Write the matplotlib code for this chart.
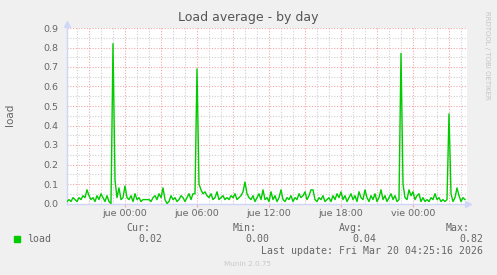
import matplotlib.pyplot as plt
import numpy as np

# 10 minute samples, hours relative to "jue 00:00", first sample Wed 19:10
start_hour = -29 / 6
step_hour = 1 / 6

load = [
    0.01, 0.02, 0.01, 0.03, 0.02, 0.01, 0.03, 0.02, 0.04, 0.03,
    0.07, 0.04, 0.02, 0.03, 0.01, 0.04, 0.02, 0.05, 0.03, 0.01,
    0.04, 0.01, 0.00, 0.82, 0.12, 0.03, 0.08, 0.02, 0.03, 0.09,
    0.03, 0.02, 0.04, 0.01, 0.05, 0.02, 0.03, 0.01, 0.02, 0.02,
    0.02, 0.02, 0.01, 0.03, 0.04, 0.02, 0.05, 0.03, 0.08, 0.02,
    0.00, 0.01, 0.04, 0.02, 0.03, 0.01, 0.02, 0.04, 0.03, 0.01,
    0.03, 0.05, 0.02, 0.05, 0.05, 0.69, 0.10, 0.07, 0.05, 0.06,
    0.04, 0.03, 0.05, 0.02, 0.03, 0.06, 0.02, 0.03, 0.04, 0.02,
    0.03, 0.02, 0.04, 0.03, 0.05, 0.02, 0.03, 0.04, 0.06, 0.11,
    0.05, 0.03, 0.02, 0.04, 0.01, 0.03, 0.05, 0.02, 0.07, 0.02,
    0.03, 0.01, 0.06, 0.02, 0.04, 0.01, 0.03, 0.07, 0.02, 0.01,
    0.03, 0.02, 0.04, 0.01, 0.03, 0.02, 0.05, 0.03, 0.04, 0.06,
    0.02, 0.04, 0.07, 0.07, 0.02, 0.01, 0.03, 0.02, 0.04, 0.01,
    0.02, 0.03, 0.01, 0.04, 0.02, 0.05, 0.03, 0.06, 0.02, 0.04,
    0.01, 0.03, 0.05, 0.02, 0.04, 0.01, 0.06, 0.03, 0.02, 0.07,
    0.03, 0.01, 0.04, 0.02, 0.05, 0.01, 0.03, 0.07, 0.02, 0.04,
    0.01, 0.03, 0.05, 0.02, 0.04, 0.01, 0.02, 0.77, 0.10, 0.03,
    0.02, 0.07, 0.04, 0.06, 0.02, 0.04, 0.05, 0.01, 0.03, 0.01,
    0.02, 0.01, 0.03, 0.02, 0.05, 0.02, 0.03, 0.01, 0.02, 0.01,
    0.02, 0.46, 0.05, 0.01, 0.03, 0.08, 0.04, 0.01, 0.03, 0.02,
]

tick_hours = [0, 6, 12, 18, 24]
tick_labels = ['jue 00:00', 'jue 06:00', 'jue 12:00', 'jue 18:00', 'vie 00:00']

stats_names = ['Cur:', 'Min:', 'Avg:', 'Max:']
stats_values = ['0.02', '0.00', '0.04', '0.82']
last_update = 'Last update: Fri Mar 20 04:25:16 2026'

W, H = 497, 275
font_col = '#666666'
axis_col = '#CFD6F8'

t = start_hour + step_hour * np.arange(len(load))

fig = plt.figure(figsize=(W / 100, H / 100), dpi=100, facecolor='#F0F0F0')
ax = fig.add_axes([67 / W, 1 - 203.5 / H, 400 / W, 175.5 / H])
ax.set_facecolor('white')

x0 = -58 / 12
x1 = x0 + 400 / 12
ax.set_xlim(x0, x1)
ax.set_ylim(0, 0.9)

# grid by hand, rrdtool style
for h in np.arange(np.ceil(x0), x1, 1):
    if h % 3 == 0:
        ax.axvline(h, color='#F0A8A8', lw=0.8, ls=(0, (1, 1.5)), zorder=1)
    else:
        ax.axvline(h, color='#D0D0D0', lw=0.8, ls=(0, (1, 1.5)), zorder=1)
for v in np.arange(0.05, 0.91, 0.05):
    if round(v * 100) % 10 == 0:
        ax.axhline(v, color='#F0A8A8', lw=0.8, ls=(0, (1, 1.5)), zorder=1)
    else:
        ax.axhline(v, color='#D0D0D0', lw=0.8, ls=(0, (1, 1.5)), zorder=1)

ax.plot(t, load, color='#00CC00', lw=1, zorder=3)

for s in ['top', 'right']:
    ax.spines[s].set_visible(False)
for s in ['left', 'bottom']:
    ax.spines[s].set_color(axis_col)
    ax.spines[s].set_linewidth(1)

ax.set_xticks(tick_hours)
ax.set_xticklabels(tick_labels)
ax.set_yticks(np.arange(0, 0.91, 0.1))
ax.set_yticklabels(['%.1f' % v for v in np.arange(0, 0.91, 0.1)])
ax.tick_params(axis='x', length=2, color='#F0A8A8', pad=2, labelsize=6.8, labelcolor=font_col)
ax.tick_params(axis='y', length=0, pad=6, labelsize=6.8, labelcolor=font_col)

# axis arrows
ax.plot([x1 + 0.05], [0], marker='>', color=axis_col, ms=5, clip_on=False, zorder=4)
ax.plot([x0], [0.9 + 0.02], marker='^', color=axis_col, ms=5, clip_on=False, zorder=4)

fig.text(0.5, 1 - 18 / H, 'Load average - by day', ha='center', va='center',
         fontsize=9, color='#555555')
fig.text(10 / W, 1 - 115 / H, 'load', rotation=90, ha='center', va='center',
         fontsize=7.5, color=font_col)
fig.text(487 / W, 1 - 55 / H, 'RRDTOOL / TOBI OETIKER', rotation=270, ha='center',
         va='center', fontsize=5, color='#C4C4C4')

mono = 'DejaVu Sans Mono'
fig.patches.append(plt.Rectangle((14 / W, 1 - 242 / H), 6 / W, 6 / H,
                                 transform=fig.transFigure, color='#00CC00'))
fig.text(27 / W, 1 - 239 / H, 'load', family=mono, fontsize=7.1, color=font_col,
         va='center')
name_right = [150, 257, 363, 470]
val_right = [162, 269, 376, 483]
for i in range(len(stats_names)):
    fig.text(name_right[i] / W, 1 - 228 / H, stats_names[i], family=mono, fontsize=7.1,
             color=font_col, ha='right', va='center')
    fig.text(val_right[i] / W, 1 - 239 / H, stats_values[i], family=mono, fontsize=7.1,
             color=font_col, ha='right', va='center')
fig.text(483 / W, 1 - 251 / H, last_update, family=mono, fontsize=7.1, color=font_col,
         ha='right', va='center')
fig.text(248 / W, 1 - 264 / H, 'Munin 2.0.75', fontsize=5.2, color='#C8C8C8',
         ha='center', va='center')

fig.savefig('out.png', dpi=100, facecolor=fig.get_facecolor())
